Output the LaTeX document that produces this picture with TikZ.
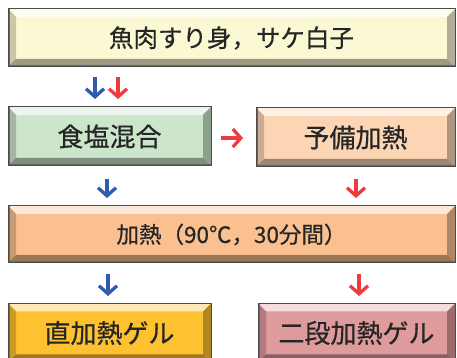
\documentclass[tikz,border=0pt]{standalone}
\usepackage{fontspec}
\setmainfont{Noto Sans CJK JP}[FakeBold=0.6,BoldFont={Noto Sans CJK JP}]
\usetikzlibrary{arrows.meta}
\definecolor{cA}{HTML}{FBF8D4}
\definecolor{cB}{HTML}{CDE5CB}
\definecolor{cC}{HTML}{FCD5B4}
\definecolor{cD}{HTML}{FAC090}
\definecolor{cE}{HTML}{FEC12F}
\definecolor{cF}{HTML}{DF9A9C}
\definecolor{ablue}{HTML}{2E5CAE}
\definecolor{ared}{HTML}{EE3B3F}
\tikzset{
  bbox/.style={draw=black!70, line width=1pt, fill=#1, inner sep=0pt, text=black!85,
    path picture={
      \fill[#1!35!white] (path picture bounding box.north west) -- (path picture bounding box.north east)
        -- ([shift={(-8pt,-8pt)}]path picture bounding box.north east) -- ([shift={(8pt,-8pt)}]path picture bounding box.north west) -- cycle;
      \fill[#1!80!black] (path picture bounding box.north west) -- ([shift={(8pt,-8pt)}]path picture bounding box.north west)
        -- ([shift={(8pt,8pt)}]path picture bounding box.south west) -- (path picture bounding box.south west) -- cycle;
      \fill[#1!70!black] (path picture bounding box.north east) -- ([shift={(-8pt,-8pt)}]path picture bounding box.north east)
        -- ([shift={(-8pt,8pt)}]path picture bounding box.south east) -- (path picture bounding box.south east) -- cycle;
      \fill[#1!62!black] (path picture bounding box.south west) -- ([shift={(8pt,8pt)}]path picture bounding box.south west)
        -- ([shift={(-8pt,8pt)}]path picture bounding box.south east) -- (path picture bounding box.south east) -- cycle;
      \fill[black!60] (path picture bounding box.north west) rectangle ([shift={(2pt,0pt)}]path picture bounding box.south west);
      \fill[black!60] (path picture bounding box.south west) rectangle ([shift={(0pt,2pt)}]path picture bounding box.south east);
    }},
  flow/.style={line width=3.3pt, -{Straight Barb[length=8pt,width=18pt]}}
}
\begin{document}
\begin{tikzpicture}[x=1pt,y=1pt]
\useasboundingbox (0,0) rectangle (457,358);
\node[bbox=cA, minimum width=447pt, minimum height=58pt, font=\fontsize{24.5}{28}\selectfont] (raw) at (231.5,320) {魚肉すり身，サケ白子};
\node[bbox=cB, minimum width=203pt, minimum height=59pt, font=\fontsize{26}{30}\selectfont] (salt) at (109.5,221.5) {食塩混合};
\node[bbox=cC, minimum width=199pt, minimum height=59pt, font=\fontsize{26}{30}\selectfont] (pre) at (355.5,220.5) {予備加熱};
\node[bbox=cD, minimum width=447pt, minimum height=57pt, font=\fontsize{22.5}{26}\selectfont] (heat) at (231.5,123.5) {加熱（90℃，30分間）};
\node[bbox=cE, minimum width=203pt, minimum height=59pt, font=\fontsize{26}{30}\selectfont, anchor=north] (direct) at (109.5,55) {直加熱ゲル};
\node[bbox=cF, minimum width=197pt, minimum height=59pt, font=\fontsize{26}{30}\selectfont, anchor=north] (two) at (356.5,55) {二段加熱ゲル};
% arrow end points
\coordinate (b1s) at (95,281); \coordinate (b1e) at (95,259);
\coordinate (r1s) at (118,281); \coordinate (r1e) at (118,259);
\coordinate (rrs) at (221,220); \coordinate (rre) at (243,220);
\coordinate (b2s) at (107,179); \coordinate (b2e) at (107,160);
\coordinate (r2s) at (356,179); \coordinate (r2e) at (356,160);
\coordinate (b3s) at (108,84); \coordinate (b3e) at (108,62);
\coordinate (r3s) at (359,84); \coordinate (r3e) at (359,62);
\draw[flow, ablue] (b1s) -- (b1e);
\draw[flow, ared] (r1s) -- (r1e);
\draw[flow, ared] (rrs) -- (rre);
\draw[flow, ablue] (b2s) -- (b2e);
\draw[flow, ared] (r2s) -- (r2e);
\draw[flow, ablue] (b3s) -- (b3e);
\draw[flow, ared] (r3s) -- (r3e);
\end{tikzpicture}
\end{document}
